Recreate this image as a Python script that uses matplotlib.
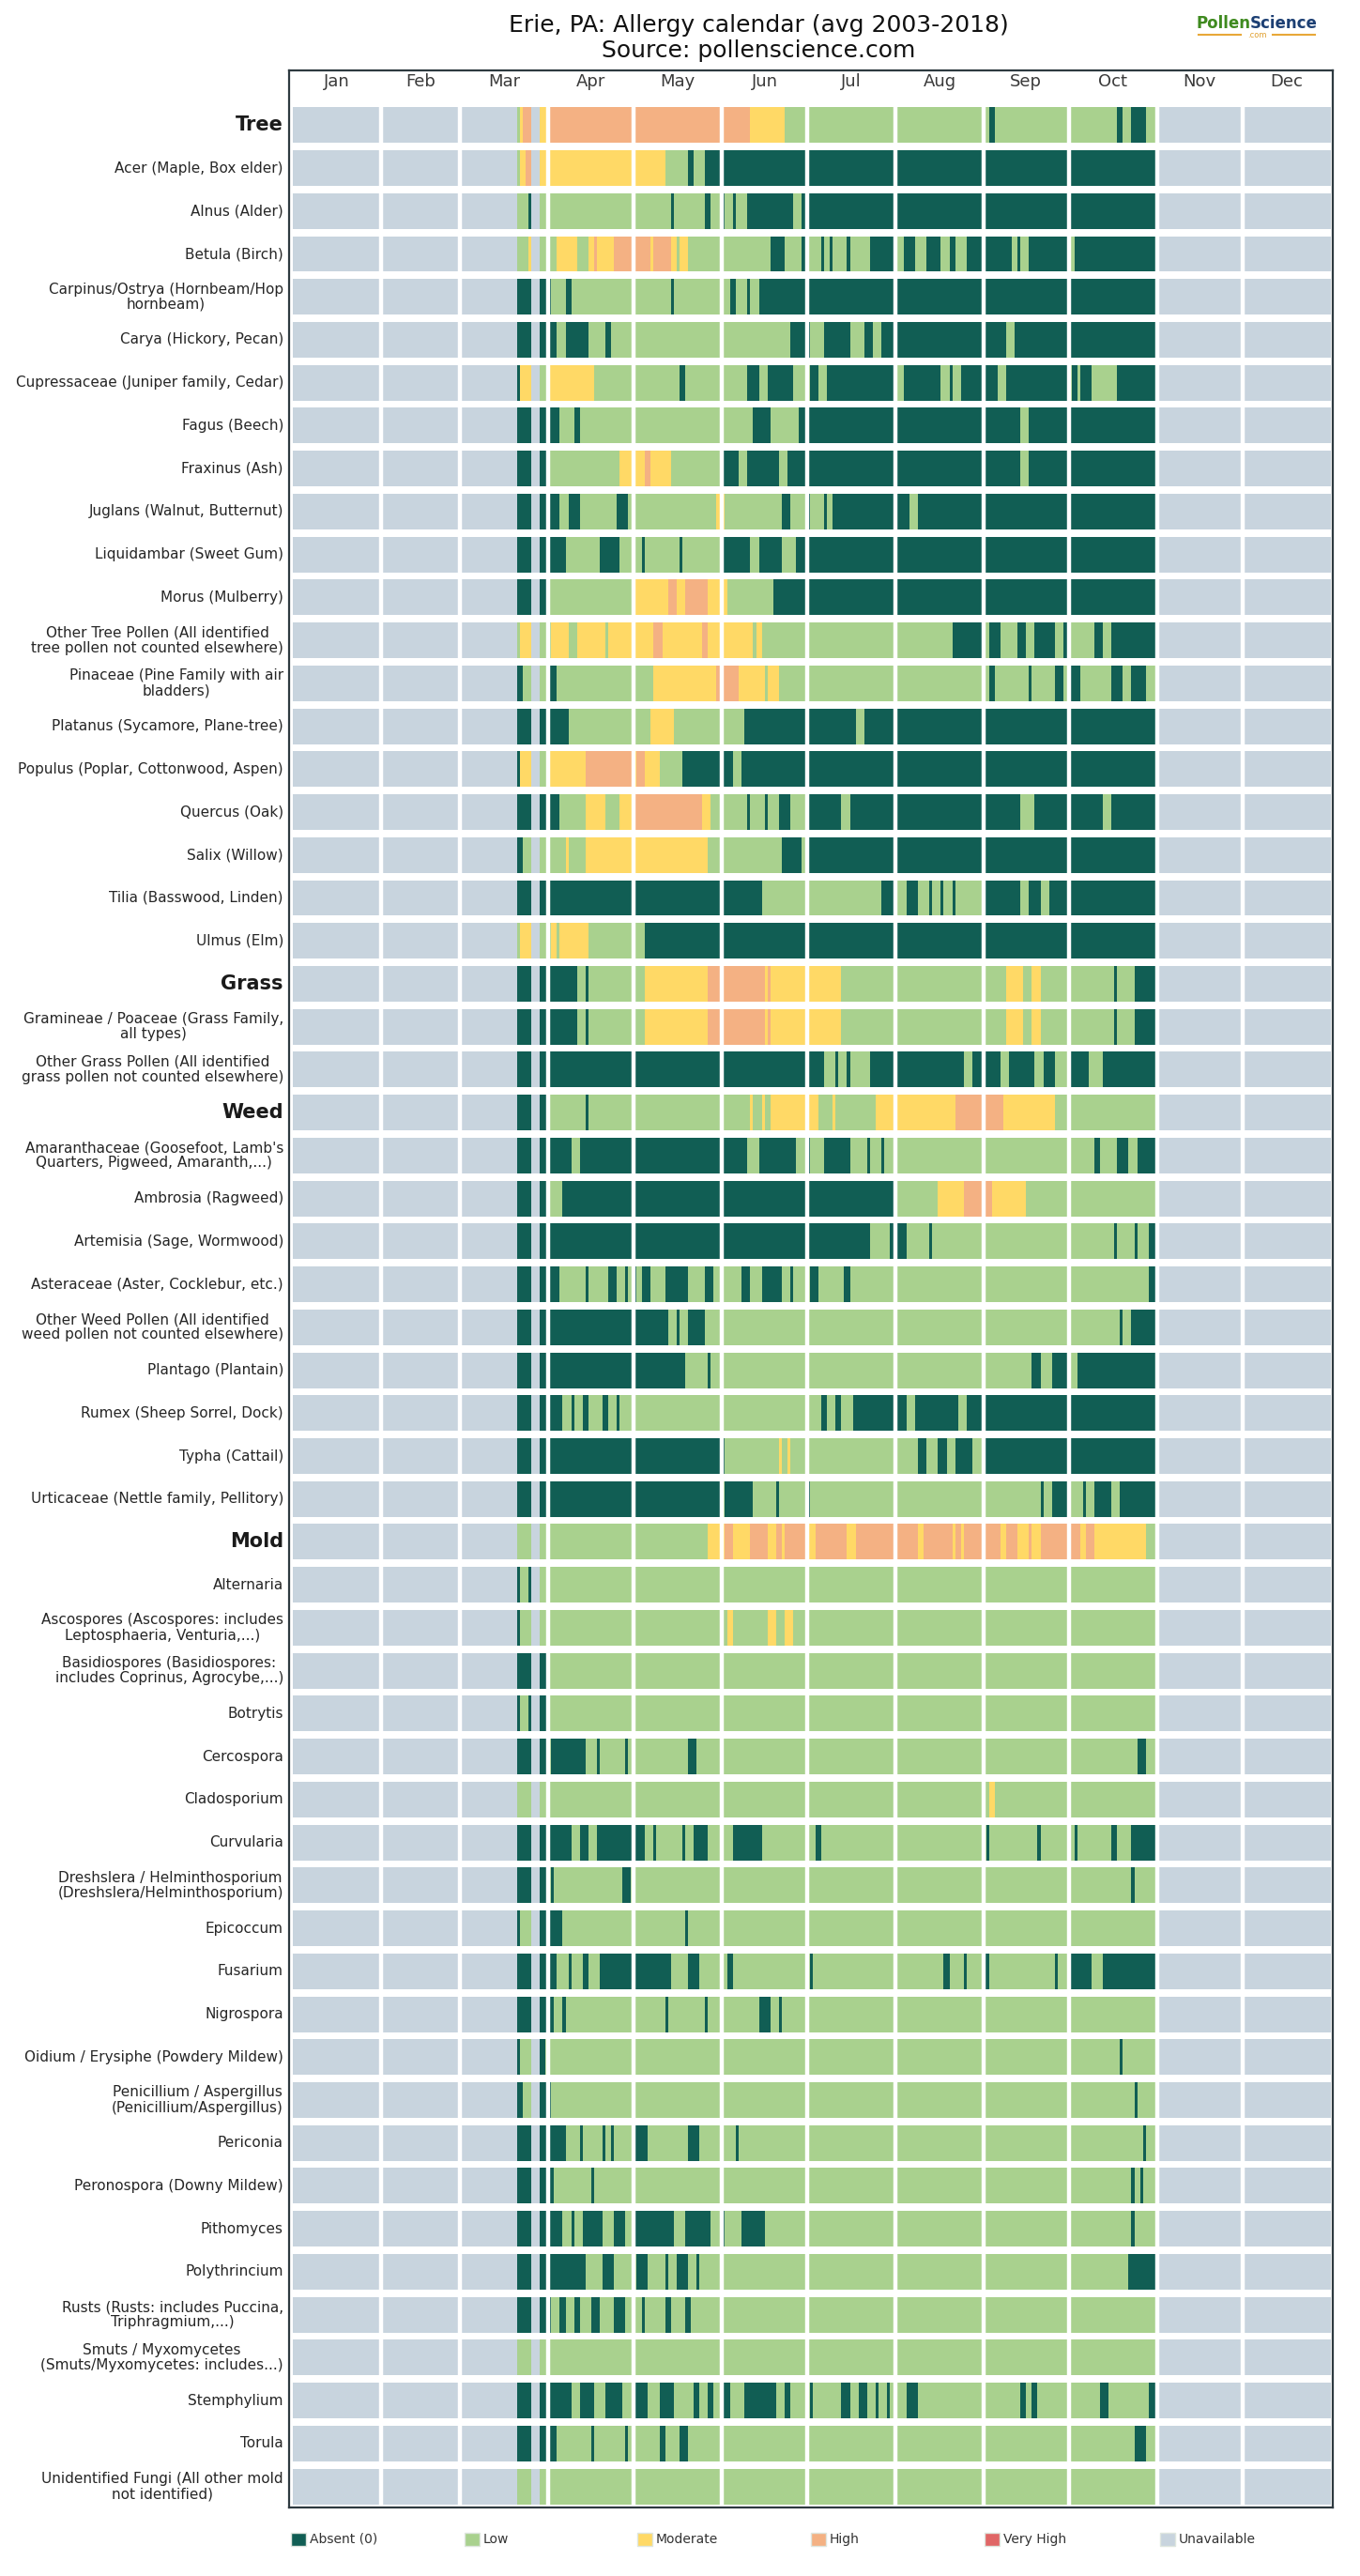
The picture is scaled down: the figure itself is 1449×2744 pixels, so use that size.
import matplotlib
matplotlib.use("Agg")
import matplotlib.pyplot as plt
from matplotlib.patches import Rectangle
from matplotlib.transforms import blended_transform_factory

# --- data -------------------------------------------------------------
MONTHS = ["Jan", "Feb", "Mar", "Apr", "May", "Jun",
          "Jul", "Aug", "Sep", "Oct", "Nov", "Dec"]
MONTH_DAYS = [31, 28, 31, 30, 31, 30, 31, 31, 30, 31, 30, 31]

LEVELS = ["Absent (0)", "Low", "Moderate", "High", "Very High", "Unavailable"]
LEVEL_CODES = ["A", "L", "M", "H", "V", "U"]
LEVEL_COLORS = ["#115e54", "#a9d18e", "#ffd966", "#f4b183", "#e06666", "#c8d4de"]

SEASON_END = 304  # day index where data stops (Nov 1)

# each run string: "<start day><level code>" ; days before the first run and
# after SEASON_END are unavailable
TREE_LABELS = [
    "Tree", "Acer (Maple, Box elder)", "Alnus (Alder)", "Betula (Birch)",
    "Carpinus/Ostrya (Hornbeam/Hop\nhornbeam)", "Carya (Hickory, Pecan)",
    "Cupressaceae (Juniper family, Cedar)", "Fagus (Beech)", "Fraxinus (Ash)",
    "Juglans (Walnut, Butternut)", "Liquidambar (Sweet Gum)", "Morus (Mulberry)",
    "Other Tree Pollen (All identified\ntree pollen not counted elsewhere)",
    "Pinaceae (Pine Family with air\nbladders)", "Platanus (Sycamore, Plane-tree)",
    "Populus (Poplar, Cottonwood, Aspen)", "Quercus (Oak)", "Salix (Willow)",
    "Tilia (Basswood, Linden)", "Ulmus (Elm)",
]
TREE_RUNS = [
    "79L 80M 81H 84U 87M 90H 161M 173L 245A 247L 290A 292L 295A 300L",
    "79L 80M 82H 84U 87M 131L 139A 141L 145A",
    "79L 83A 84U 87L 133A 134L 145A 147L 151A 152L 155A 156L 160A 176L 179A",
    "79L 83M 84U 87L 93M 100L 104M 106H 107M 113H 126M 127H 133M 135L 136M 139L "
    "168A 173L 179A 181L 186A 187L 189A 190L 195A 196L 203A 212L 215A 219L 223A "
    "228L 231A 233L 237A 253L 255A 256L 259A 273L 275A",
    "79A 84U 87A 91L 96A 98L 133A 134L 154A 156L 160A 161L 164A",
    "79A 84U 87A 93L 96A 104L 110A 112L 175A 182L 187A 196L 201A 204L 207A 251L 254A",
    "79A 80M 84U 87L 90M 106L 136A 138L 160A 164L 167A 176L 182A 185L 188A 212L "
    "215A 228L 231A 232L 235A 248L 251A 273L 274A 276L 277A 281L 290A",
    "79A 84U 87A 94L 99A 101L 162A 168L 178A 256L 259A",
    "79A 84U 87A 90L 115M 124H 126M 133L 151A 157L 160A 171L 174A 256L 259A",
    "79A 84U 87A 94L 97A 101L 114A 118L 149M 152L 172A 175L 181A 182L 187A 188L 190A 217L 220A",
    "79A 84U 87A 96L 108A 115L 123A 124L 136A 137L 151A 161L 164A 172L 177A",
    "79A 84U 87A 90L 120M 132H 135M 138H 146M 153L 169A",
    "79L 80M 84U 87L 91M 97L 100M 110L 111M 127H 130M 144H 146M 162L 163M 165L 232A "
    "243L 245A 249L 255A 258L 261A 268L 271A 273L 282A 285L 288A",
    "79A 81L 84U 87L 90A 93L 127M 149H 157M 166L 167M 171L 245A 247L 259A 260L 268A "
    "271L 273A 277L 288A 292L 295A 300L",
    "79A 84U 87A 97L 126M 134L 159A 198L 201A",
    "79A 80M 84U 87L 90M 103H 120M 121H 124M 129L 137A 155L 158A",
    "79A 84U 87A 94L 103M 110L 115M 120H 144M 147L 160A 161L 166A 167L 171A 175L 181A "
    "193L 196A 256L 261A 285L 288A",
    "79A 81L 84U 87L 96M 97L 103M 146L 172A 179L 181A",
    "79A 84U 87A 165L 207A 212L 216A 220L 224A 225L 228A 229L 232A 233L 243A 256L 259A 263L 266A",
    "79L 80M 84U 87L 91M 93L 94M 104L 124A",
]

GRASS_LABELS = [
    "Grass", "Gramineae / Poaceae (Grass Family,\nall types)",
    "Other Grass Pollen (All identified\ngrass pollen not counted elsewhere)",
]
GRASS_RUNS = [
    "79A 84U 87A 100L 103A 104L 124M 146H 166M 167H 168M 193L 251M 257L 260M 263L 289A 290L 296A",
    "79A 84U 87A 100L 103A 104L 124M 146H 166M 167H 168M 193L 251M 257L 260M 263L 289A 290L 296A",
    "79A 84U 87A 187L 191A 192L 195A 196L 203A 236L 239A 249L 252A 261L 264A 268L 273A 280L 285A",
]

WEED_LABELS = [
    "Weed", "Amaranthaceae (Goosefoot, Lamb's\nQuarters, Pigweed, Amaranth,...)",
    "Ambrosia (Ragweed)", "Artemisia (Sage, Wormwood)",
    "Asteraceae (Aster, Cocklebur, etc.)",
    "Other Weed Pollen (All identified\nweed pollen not counted elsewhere)",
    "Plantago (Plantain)", "Rumex (Sheep Sorrel, Dock)", "Typha (Cattail)",
    "Urticaceae (Nettle family, Pellitory)",
]
WEED_RUNS = [
    "79A 84U 87A 90L 103A 104L 161M 162L 165M 166L 168M 185L 190M 191L 205M 233H 250M 268L",
    "79A 84U 87A 98L 101A 160L 164A 177L 181A 182L 187A 196L 202A 203L 207A 208L 282A 284L 290A 294L 297A",
    "79A 84U 87A 90L 95A 212L 227M 236H 246M 258L",
    "79A 84U 87A 203L 210A 216L 224A 225L 289A 290L 296A 297L 301A",
    "79A 84U 87A 94L 103A 104L 111A 114L 117A 118L 120A 121L 123A 126L 131A 139L 145A "
    "148L 158A 161L 165A 172L 175A 176L 182A 185L 194A 196L 301A",
    "79A 84U 87A 132L 135A 136L 139A 145L 291A 292L 295A",
    "79A 84U 87A 138L 146A 147L 260A 263L 267A 273L 276A",
    "79A 84U 87A 95L 98A 99L 102A 104L 109A 111L 114A 115L 186A 188L 191A 193L 197A 216L 219A 234L 237A",
    "79A 84U 87A 152L 171M 172L 174M 175L 220A 223L 227A 230L 233A 239L 243A",
    "79A 84U 87A 151L 152A 162L 170A 171L 181A 182L 263A 264L 267A 273L 278A 279L 282A 288L 291A",
]

MOLD_LABELS = [
    "Mold", "Alternaria",
    "Ascospores (Ascospores: includes\nLeptosphaeria, Venturia,...)",
    "Basidiospores (Basidiospores:\nincludes Coprinus, Agrocybe,...)",
    "Botrytis", "Cercospora", "Cladosporium", "Curvularia",
    "Dreshslera / Helminthosporium\n(Dreshslera/Helminthosporium)",
    "Epicoccum", "Fusarium", "Nigrospora", "Oidium / Erysiphe (Powdery Mildew)",
    "Penicillium / Aspergillus\n(Penicillium/Aspergillus)", "Periconia",
    "Peronospora (Downy Mildew)", "Pithomyces", "Polythrincium",
    "Rusts (Rusts: includes Puccina,\nTriphragmium,...)",
    "Smuts / Myxomycetes\n(Smuts/Myxomycetes: includes...)",
    "Stemphylium", "Torula", "Unidentified Fungi (All other mold\nnot identified)",
]
MOLD_RUNS = [
    "79L 84U 87L 146M 152H 155M 161H 167M 170H 172M 173H 181M 184H 195M 198H 220M 222H "
    "232M 233H 235M 236H 249M 251H 255M 259H 260M 263H 277M 279H 282M 300L",
    "79A 80L 83A 84U 87L",
    "79A 80L 84U 87L 153M 155L 167M 170L 173M 176L",
    "79A 84U 87A 90L",
    "79A 80L 83A 84U 87A 90L",
    "79A 84U 87A 90L 91A 103L 107A 108L 117A 118L 139A 142L 297A 300L",
    "79L 84U 87L 245M 247L",
    "79A 84U 87A 98L 101A 104L 107A 124L 127A 128L 137A 138L 141A 146L 155A 165L 184A "
    "186L 244A 245L 262A 263L 275A 276L 288A 290L 295A",
    "79A 84U 87A 90L 91A 92L 116A 119L 295A 296L",
    "79A 80L 84U 87A 95L 138A 139L",
    "79A 84U 87A 93L 97A 98L 102A 104L 108A 133L 139A 143L 153A 155L 182A 183L 229A "
    "231L 236A 237L 243A 245L 268A 269L 273A 281L 285A",
    "79A 84U 87A 92L 95A 96L 131A 132L 145A 146L 164A 168L 171A 172L",
    "79A 80L 84U 87A 89L 291A 292L",
    "79A 81L 84U 87A 91L 296A 297L",
    "79A 84U 87A 96L 101A 102L 109A 110L 112A 113L 120A 125L 139A 143L 156A 157L 299A 300L",
    "79A 84U 87A 92L 105A 106L 295A 296L 298A 299L",
    "79A 84U 87A 95L 98A 99L 102A 109L 113A 117L 120A 134L 138A 147L 151A 152L 158A 166L 295A 296L",
    "79A 84U 87A 103L 109A 113L 121A 125L 131A 132L 135A 139L 142A 143L 294A",
    "79A 84U 87A 91L 94A 96L 99A 101L 105A 108L 113A 117L 123A 124L 131A 133L 138A 140L",
    "79L 84U 87L",
    "79A 84U 87A 98L 101A 106L 110A 116L 120A 125L 129A 134L 141A 143L 146A 148L 151A "
    "154L 159A 170L 173A 175L 182A 183L 193A 196L 199A 202L 205A 206L 209A 210L 216A "
    "220L 256A 258L 260A 262L 284A 287L 301A",
    "79A 84U 87A 93L 105A 106L 117A 118L 129A 131L 136A 139L 296A 300L",
    "79L 84U 87L",
]

HEADERS = ["Tree", "Grass", "Weed", "Mold"]


def parse_runs(text, end=SEASON_END, year=365):
    segs = []
    prev, prev_code = 0, "U"
    for tok in text.split():
        start, code = int(tok[:-1]), tok[-1]
        if start > prev:
            segs.append((prev, start - prev, prev_code))
        prev, prev_code = start, code
    segs.append((prev, end - prev, prev_code))
    segs.append((end, year - end, "U"))
    return segs


labels = TREE_LABELS + GRASS_LABELS + WEED_LABELS + MOLD_LABELS
runs = TREE_RUNS + GRASS_RUNS + WEED_RUNS + MOLD_RUNS
n_rows = len(labels)

W, H = 1449, 2744
fig = plt.figure(figsize=(W / 100, H / 100), dpi=100)
ax = fig.add_axes([308 / W, 1 - 2671 / H, (1420 - 308) / W, (2671 - 75) / H])

bar_h = 0.83
color_of = dict(zip(LEVEL_CODES, LEVEL_COLORS))
for i, run in enumerate(runs):
    segs = parse_runs(run)
    for code in LEVEL_CODES:
        spans = [(s, w) for s, w, c in segs if c == code and w > 0]
        if spans:
            ax.broken_barh(spans, (i - bar_h / 2, bar_h), facecolors=color_of[code],
                           edgecolor="none", linewidth=0)

month_starts = [sum(MONTH_DAYS[:k]) for k in range(12)]
ax.vlines(month_starts[1:], -0.6, n_rows - 0.4, colors="white", linewidth=3.2)

for k, m in enumerate(MONTHS):
    ax.text(month_starts[k] + MONTH_DAYS[k] / 2, -1.01, m, ha="center", va="center",
            fontsize=13, color="#3a3a3a")

ax.set_xlim(-1.2, 365.8)
ax.set_ylim(n_rows - 0.51, -1.275)
ax.set_xticks([])
ax.set_yticks([])
for sp in ax.spines.values():
    sp.set_color("#2e3a40")
    sp.set_linewidth(1.6)

trans = blended_transform_factory(ax.transAxes, ax.transData)
for i, lab in enumerate(labels):
    if lab in HEADERS:
        ax.text(-0.0055, i, lab, transform=trans, ha="right", va="center",
                fontsize=15, fontweight="bold", color="#1a1a1a")
    else:
        ax.text(-0.0055, i, lab, transform=trans, ha="right", va="center",
                multialignment="center", fontsize=11, color="#262626", linespacing=1.1)

# title
fig.text(808 / W, 1 - 27 / H, "Erie, PA: Allergy calendar (avg 2003-2018)",
         ha="center", va="center", fontsize=18, color="#111111")
fig.text(808 / W, 1 - 54 / H, "Source: pollenscience.com",
         ha="center", va="center", fontsize=18, color="#111111")

# logo
fig.text(1332 / W, 1 - 25 / H, "Pollen", ha="right", va="center", fontsize=12,
         fontweight="bold", color="#3f8a1f")
fig.text(1332 / W, 1 - 25 / H, "Science", ha="left", va="center", fontsize=12,
         fontweight="bold", color="#1c3f73")
fig.text(1339 / W, 1 - 38 / H, ".com", ha="center", va="center", fontsize=6,
         color="#e0a030")
fig.add_artist(plt.Line2D([1277 / W, 1322 / W], [1 - 37 / H] * 2, color="#e8a838", lw=1.5))
fig.add_artist(plt.Line2D([1356 / W, 1401 / W], [1 - 37 / H] * 2, color="#e8a838", lw=1.5))

# legend
leg_x = [310, 495, 679, 864, 1049, 1236]
leg_y = 2705
for x, lab, col in zip(leg_x, LEVELS, LEVEL_COLORS):
    fig.add_artist(Rectangle((x / W, 1 - (leg_y + 7) / H), 16 / W, 14 / H,
                             transform=fig.transFigure, facecolor=col,
                             edgecolor="#dfe6df", linewidth=1))
    fig.text((x + 20) / W, 1 - leg_y / H, lab, ha="left", va="center",
             fontsize=10, color="#333333")

fig.savefig("out.png", dpi=100, facecolor="white")
